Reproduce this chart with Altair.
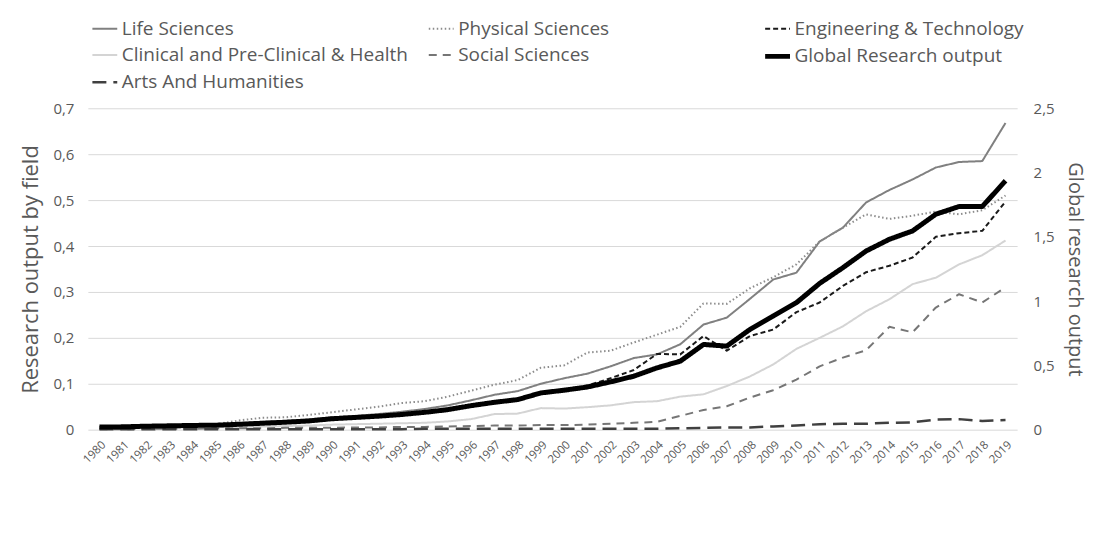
import altair as alt
import pandas as pd

years = [str(y) for y in range(1980, 2020)]

life = [0.005, 0.006, 0.007, 0.008, 0.009, 0.011, 0.014, 0.017, 0.019, 0.022,
        0.027, 0.030, 0.034, 0.039, 0.045, 0.053, 0.064, 0.076, 0.084, 0.100,
        0.112, 0.122, 0.138, 0.156, 0.164, 0.186, 0.229, 0.244, 0.285, 0.327,
        0.342, 0.410, 0.440, 0.495, 0.522, 0.545, 0.571, 0.583, 0.585, 0.668]
physical = [0.005, 0.006, 0.008, 0.009, 0.010, 0.012, 0.020, 0.026, 0.027, 0.032,
            0.038, 0.044, 0.050, 0.058, 0.062, 0.072, 0.085, 0.098, 0.108, 0.135,
            0.140, 0.168, 0.172, 0.190, 0.207, 0.224, 0.275, 0.274, 0.308, 0.332,
            0.360, 0.410, 0.440, 0.469, 0.459, 0.466, 0.475, 0.469, 0.478, 0.510]
engineering = [0.005, 0.006, 0.007, 0.008, 0.009, 0.010, 0.012, 0.014, 0.016, 0.019,
               0.024, 0.027, 0.030, 0.034, 0.038, 0.044, 0.053, 0.060, 0.066, 0.080,
               0.088, 0.096, 0.112, 0.130, 0.165, 0.164, 0.204, 0.172, 0.204, 0.218,
               0.256, 0.277, 0.313, 0.343, 0.357, 0.375, 0.420, 0.428, 0.433, 0.497]
clinical = [0.003, 0.003, 0.004, 0.004, 0.005, 0.005, 0.006, 0.007, 0.008, 0.009,
            0.011, 0.012, 0.013, 0.014, 0.015, 0.018, 0.023, 0.034, 0.035, 0.047,
            0.046, 0.049, 0.053, 0.060, 0.062, 0.072, 0.077, 0.095, 0.116, 0.142,
            0.176, 0.200, 0.225, 0.258, 0.284, 0.317, 0.331, 0.360, 0.380, 0.412]
social = [0.001, 0.001, 0.002, 0.002, 0.002, 0.003, 0.003, 0.003, 0.004, 0.004,
          0.004, 0.005, 0.005, 0.006, 0.006, 0.007, 0.008, 0.009, 0.009, 0.010,
          0.010, 0.011, 0.013, 0.015, 0.017, 0.030, 0.043, 0.051, 0.070, 0.086,
          0.109, 0.138, 0.157, 0.173, 0.224, 0.212, 0.266, 0.295, 0.277, 0.310]
arts = [0.001, 0.001, 0.001, 0.001, 0.001, 0.001, 0.001, 0.001, 0.001, 0.001,
        0.001, 0.001, 0.001, 0.001, 0.002, 0.002, 0.002, 0.002, 0.002, 0.002,
        0.002, 0.002, 0.002, 0.002, 0.002, 0.003, 0.004, 0.005, 0.005, 0.007,
        0.009, 0.012, 0.013, 0.013, 0.015, 0.016, 0.022, 0.023, 0.019, 0.021]
global_output = [0.020, 0.022, 0.027, 0.030, 0.033, 0.035, 0.042, 0.050, 0.058, 0.068,
                 0.085, 0.095, 0.105, 0.118, 0.135, 0.156, 0.187, 0.213, 0.234, 0.286,
                 0.307, 0.332, 0.372, 0.416, 0.481, 0.533, 0.663, 0.650, 0.780, 0.884,
                 0.988, 1.138, 1.260, 1.390, 1.481, 1.546, 1.676, 1.736, 1.736, 1.936]

names = ["Life Sciences", "Physical Sciences", "Engineering & Technology",
         "Clinical and Pre-Clinical & Health", "Social Sciences",
         "Global Research output", "Arts And Humanities"]
colors = ["#808080", "#8c8c8c", "#1a1a1a", "#d4d4d4", "#767676", "#000000", "#404040"]
dashes = [[1, 0], [1.5, 2.5], [5, 3], [1, 0], [8, 6], [1, 0], [14, 7]]
widths = [2, 2, 2, 2, 2, 5, 2.5]

field_series = {
    "Life Sciences": life,
    "Physical Sciences": physical,
    "Engineering & Technology": engineering,
    "Clinical and Pre-Clinical & Health": clinical,
    "Social Sciences": social,
    "Arts And Humanities": arts,
}
rows = []
for name, vals in field_series.items():
    for yr, v in zip(years, vals):
        rows.append({"year": yr, "series": name, "value": v})
fields_df = pd.DataFrame(rows)
global_df = pd.DataFrame({"year": years, "series": "Global Research output", "value": global_output})

FONT = "Open Sans, sans-serif"
GRAY = "#595959"

legend = alt.Legend(
    title=None, orient="none", legendX=2, legendY=-94, columns=3, gridAlign="all",
    columnPadding=10, rowPadding=2, symbolType="stroke", symbolSize=620,
    labelFontSize=19, labelFont=FONT, labelColor=GRAY, labelOffset=2,
    labelLimit=400, symbolOpacity=1, values=names, direction="horizontal"
)

def enc():
    return dict(
        color=alt.Color("series:N", scale=alt.Scale(domain=names, range=colors), legend=legend),
        strokeDash=alt.StrokeDash("series:N", scale=alt.Scale(domain=names, range=dashes), legend=legend),
        strokeWidth=alt.StrokeWidth("series:N", scale=alt.Scale(type="ordinal", domain=names, range=widths), legend=legend),
        detail="series:N",
    )

x = alt.X("year:O", sort=years, title=None,
          axis=alt.Axis(labelAngle=-45, labelFontSize=11.5, labelColor=GRAY, labelFont=FONT,
                        domain=False, ticks=False, labelPadding=9))

left = alt.Chart(fields_df).mark_line(strokeJoin="round").encode(
    x=x,
    y=alt.Y("value:Q", scale=alt.Scale(domain=[0, 0.7], nice=False),
            axis=alt.Axis(values=[0, 0.1, 0.2, 0.3, 0.4, 0.5, 0.6, 0.7],
                          labelExpr="replace(toString(datum.value), '.', ',')",
                          title="Research output by field", titleFontSize=22,
                          titlePadding=10, labelPadding=14, labelFontSize=15,
                          grid=True, gridColor="#d9d9d9", orient="left")),
    **enc()
)

right = alt.Chart(global_df).mark_line(strokeJoin="round").encode(
    x=x,
    y=alt.Y("value:Q", scale=alt.Scale(domain=[0, 2.5], nice=False),
            axis=alt.Axis(values=[0, 0.5, 1, 1.5, 2, 2.5],
                          labelExpr="replace(toString(datum.value), '.', ',')",
                          title="Global research output", titleFontSize=20,
                          titlePadding=10, labelPadding=16, labelFontSize=15,
                          grid=False, orient="right")),
    **enc()
)

chart = alt.layer(left, right).resolve_scale(y="independent").properties(
    width=931, height=322,
    autosize=alt.AutoSizeParams(type="none"),
    padding={"left": 80, "top": 100, "right": 72, "bottom": 80},
).configure_view(stroke=None).configure_axis(
    labelColor=GRAY, titleColor=GRAY, titleFont=FONT, labelFont=FONT,
    titleFontWeight="normal", domain=False, ticks=False
)

chart.save("out.html", embed_options={"renderer": "svg", "actions": False})
